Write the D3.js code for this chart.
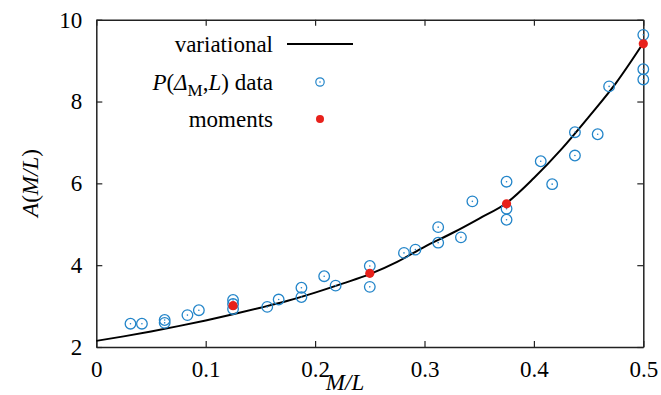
<!DOCTYPE html>
<html>
<head>
<meta charset="utf-8">
<script src="https://cdn.jsdelivr.net/npm/d3@7"></script>
<style>
  body { margin: 0; background: #fff; }
</style>
</head>
<body>
<svg class="chart"></svg>
<script>
let width = 661
let height = 395

// P(Delta_M, L) data points
const dataX = [0.03125, 0.0417, 0.0625, 0.0625, 0.0833, 0.09375, 0.125, 0.125, 0.125,
    0.15625, 0.1667, 0.1875, 0.1875, 0.2083, 0.21875, 0.25, 0.25, 0.28125, 0.2917,
    0.3125, 0.3125, 0.3333, 0.34375, 0.375, 0.375, 0.375, 0.40625, 0.4167, 0.4375,
    0.4375, 0.4583, 0.46875, 0.5, 0.5, 0.5]
const dataY = [2.57, 2.57, 2.66, 2.59, 2.78, 2.90, 3.15, 3.05, 2.93,
    2.98, 3.16, 3.45, 3.22, 3.73, 3.50, 3.98, 3.47, 4.30, 4.38,
    4.93, 4.55, 4.68, 5.56, 6.04, 5.38, 5.11, 6.54, 5.98, 7.25,
    6.68, 7.20, 8.37, 9.63, 8.79, 8.54]

// moments
const momX = [0.125, 0.25, 0.375, 0.5]
const momY = [3.01, 3.80, 5.50, 9.41]

// variational curve
const curveX = [0, 0.025, 0.05, 0.075, 0.1, 0.125, 0.15, 0.175, 0.2, 0.225, 0.25,
    0.275, 0.3, 0.325, 0.35, 0.375, 0.4, 0.425, 0.45, 0.475, 0.5]
const curveY = [2.15, 2.26, 2.38, 2.51, 2.65, 2.80, 2.96, 3.13, 3.33, 3.55, 3.78,
    4.08, 4.45, 4.78, 5.14, 5.52, 6.13, 6.83, 7.62, 8.45, 9.43]

const xTicks = [0, 0.1, 0.2, 0.3, 0.4, 0.5]
const yTicks = [2, 4, 6, 8, 10]

const blue = "#2385c9"
const red = "#e8211b"
const fs = 23
const serif = "\"Liberation Serif\", \"Times New Roman\", Times, \"Nimbus Roman\", \"Nimbus Roman No9 L\", \"Noto Serif\", \"DejaVu Serif\", FreeSerif, Tinos, serif"

const margin = {top: 19.7, left: 96.3, right: 17.7, bottom: 48}

let svg = d3.select(".chart")
    .attr("width", width)
    .attr("height", height)

let xScale = d3.scaleLinear()
    .domain([0, 0.5])
    .range([margin.left, width - margin.right])

let yScale = d3.scaleLinear()
    .domain([2, 10])
    .range([height - margin.bottom, margin.top])

// axes, ticks inward and mirrored
let xFmt = d => d === 0 ? "0" : d3.format(".1f")(d)

svg.append("g")
    .attr("transform", `translate(0, ${yScale(2)})`)
    .call(d3.axisBottom(xScale).tickValues(xTicks).tickFormat(xFmt).tickSizeInner(-6).tickSizeOuter(0).tickPadding(14))

svg.append("g")
    .attr("transform", `translate(0, ${yScale(10)})`)
    .call(d3.axisTop(xScale).tickValues(xTicks).tickFormat("").tickSizeInner(-6).tickSizeOuter(0))

svg.append("g")
    .attr("transform", `translate(${xScale(0)}, 0)`)
    .call(d3.axisLeft(yScale).tickValues(yTicks).tickSizeInner(-6).tickSizeOuter(0).tickPadding(14))

svg.append("g")
    .attr("transform", `translate(${xScale(0.5)}, 0)`)
    .call(d3.axisRight(yScale).tickValues(yTicks).tickFormat("").tickSizeInner(-6).tickSizeOuter(0))

svg.selectAll("g").attr("font-family", null)
svg.selectAll(".domain").attr("stroke", "#222").attr("stroke-width", 1.5)
svg.selectAll(".tick line").attr("stroke", "#222").attr("stroke-width", 1.2)

// variational line
let line = d3.line()
    .x(d => xScale(d[0]))
    .y(d => yScale(d[1]))
    .curve(d3.curveMonotoneX)

svg.append("path")
    .datum(curveX.map((x, i) => [x, curveY[i]]))
    .attr("d", line)
    .attr("fill", "none")
    .attr("stroke", "#000")
    .attr("stroke-width", 2)

// data circles
let pts = svg.append("g")
    .selectAll("g.pt")
    .data(dataX.map((x, i) => [x, dataY[i]]))
    .enter()
    .append("g")
    .classed("pt", true)
    .attr("transform", d => `translate(${xScale(d[0])}, ${yScale(d[1])})`)

pts.append("circle")
    .attr("r", 5.3)
    .attr("fill", "none")
    .attr("stroke", blue)
    .attr("stroke-width", 1.3)

pts.append("circle")
    .attr("r", 0.8)
    .attr("fill", blue)

// moments
svg.append("g")
    .selectAll("circle.mom")
    .data(momX.map((x, i) => [x, momY[i]]))
    .enter()
    .append("circle")
    .classed("mom", true)
    .attr("cx", d => xScale(d[0]))
    .attr("cy", d => yScale(d[1]))
    .attr("r", 4.6)
    .attr("fill", red)

// legend
let leg = svg.append("g")

leg.append("text")
    .attr("x", 273).attr("y", 52)
    .attr("text-anchor", "end")
    .text("variational")

leg.append("line")
    .attr("x1", 287).attr("x2", 353)
    .attr("y1", 44).attr("y2", 44)
    .attr("stroke", "#000").attr("stroke-width", 2)

let t2 = leg.append("text")
    .attr("x", 273).attr("y", 90)
    .attr("text-anchor", "end")
t2.append("tspan").style("font-style", "italic").text("P")
t2.append("tspan").text("(")
t2.append("tspan").style("font-style", "italic").text("Δ")
t2.append("tspan").attr("dy", 6).attr("class", "sub").text("M")
t2.append("tspan").attr("dy", -6).text(",")
t2.append("tspan").style("font-style", "italic").text("L")
t2.append("tspan").text(") data")

leg.append("circle")
    .attr("cx", 320).attr("cy", 82)
    .attr("r", 4.2)
    .attr("fill", "none")
    .attr("stroke", blue)
    .attr("stroke-width", 1.2)
leg.append("circle")
    .attr("cx", 320).attr("cy", 82)
    .attr("r", 0.8)
    .attr("fill", blue)

leg.append("text")
    .attr("x", 273).attr("y", 127)
    .attr("text-anchor", "end")
    .text("moments")

leg.append("circle")
    .attr("cx", 320).attr("cy", 119)
    .attr("r", 4)
    .attr("fill", red)

// axis titles
svg.append("text")
    .attr("x", 345).attr("y", 390)
    .attr("text-anchor", "middle")
    .style("font-style", "italic")
    .text("M/L")

let yt = svg.append("text")
    .attr("transform", "translate(38, 183) rotate(-90)")
    .attr("text-anchor", "middle")
yt.append("tspan").style("font-style", "italic").text("A")
yt.append("tspan").text("(")
yt.append("tspan").style("font-style", "italic").text("M/L")
yt.append("tspan").text(")")

// same serif font everywhere
svg.selectAll("text")
    .attr("font-family", serif)
    .attr("font-size", fs)
    .attr("fill", "#000")
svg.selectAll("tspan.sub").attr("font-size", 17)
</script>
</body>
</html>
